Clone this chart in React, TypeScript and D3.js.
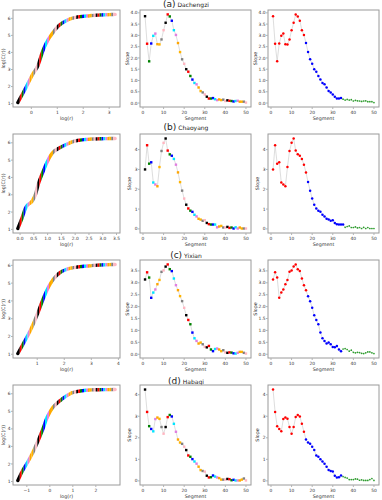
import React from 'react';
import * as d3 from 'd3';

// ---------- data ----------
const palette = ['#000000', '#ff0000', '#008000', '#0000ff', '#00e5ff', '#e07ee0', '#ffa500', '#ffb400', '#808080', '#ffb6c1'];
const clusterColors = ['#ff0000', '#0000ff', '#2ca02c'];

const tags = ['(a)', '(b)', '(c)', '(d)'];
const regions = ['Dachengzi', 'Chaoyang', 'Yixian', 'Habaqi'];

const slopeA = [3.85, 2.63, 1.85, 2.64, 2.98, 3.08, 2.61, 2.6, 2.82, 3.23, 3.56, 3.93, 3.84, 3.65, 3.23, 3.02, 2.66, 2.26, 1.94, 1.74, 1.5, 1.39, 1.2, 1.04, 0.89, 0.83, 0.69, 0.53, 0.47, 0.38, 0.28, 0.2, 0.2, 0.22, 0.17, 0.13, 0.16, 0.13, 0.15, 0.09, 0.12, 0.1, 0.09, 0.07, 0.09, 0.1, 0.06, 0.06, 0.06, 0.02];
const slopeB = [3.0, 4.22, 3.29, 3.36, 2.34, 2.24, 2.15, 3.12, 3.93, 4.34, 4.56, 3.95, 3.76, 3.69, 3.53, 3.24, 2.85, 2.36, 1.93, 1.53, 1.22, 1.03, 0.92, 0.86, 0.71, 0.63, 0.51, 0.47, 0.41, 0.44, 0.3, 0.24, 0.22, 0.22, 0.22, 0.08, 0.12, 0.15, 0.07, 0.07, 0.1, 0.05, 0.07, 0.02, 0.08, 0.02, 0.07, 0.02, 0.02, 0.02];
const slopeC = [3.14, 3.44, 3.22, 2.37, 2.59, 2.72, 2.94, 3.12, 3.46, 3.52, 3.68, 3.77, 3.57, 3.49, 3.18, 2.9, 2.69, 2.44, 2.23, 1.95, 1.64, 1.44, 1.26, 0.91, 0.67, 0.56, 0.45, 0.49, 0.42, 0.31, 0.29, 0.35, 0.2, 0.13, 0.22, 0.24, 0.2, 0.13, 0.17, 0.08, 0.06, 0.08, 0.07, 0.04, 0.03, 0.06, 0.1, 0.1, 0.06, 0.03];
const slopeD = [4.24, 3.2, 2.54, 2.41, 2.3, 2.87, 2.94, 2.88, 2.5, 2.19, 2.5, 2.96, 3.06, 2.99, 2.65, 2.28, 1.92, 1.78, 1.72, 1.59, 1.43, 1.18, 1.12, 1.01, 0.9, 0.8, 0.66, 0.5, 0.46, 0.43, 0.24, 0.16, 0.17, 0.25, 0.2, 0.16, 0.13, 0.06, 0.06, 0.06, 0.09, 0.08, 0.03, 0.05, 0.02, 0.02, 0.02, 0.06, 0.11, 0.02];

const clusterEndsA = [16, 34];
const clusterEndsB = [17, 35];
const clusterEndsC = [17, 34];
const clusterEndsD = [16, 34];

const logRA = [-0.52, -0.25, 0.06, 0.25, 0.44, 0.63, 0.82, 1.01, 1.33, 1.71, 2.09, 2.59, 3.23];
const logCA = [1.06, 1.82, 2.74, 3.22, 4.08, 4.7, 5.14, 5.5, 5.85, 6.06, 6.13, 6.19, 6.23];
const logRB = [-0.08, 0.07, 0.21, 0.45, 0.56, 0.66, 0.8, 0.98, 1.15, 1.39, 1.62, 1.98, 2.45, 3.04, 3.45];
const logCB = [1.05, 1.65, 2.27, 2.66, 3.02, 3.61, 4.2, 4.88, 5.37, 5.67, 5.86, 6.1, 6.2, 6.24, 6.25];
const logRC = [0.285, 0.47, 0.66, 0.84, 1.02, 1.21, 1.4, 1.59, 1.83, 2.08, 2.45, 2.83, 3.32, 3.88];
const logCC = [1.04, 1.55, 2.08, 2.65, 3.31, 4.07, 4.73, 5.2, 5.58, 5.77, 5.9, 5.96, 6.02, 6.05];
const logRD = [-1.39, -1.18, -0.96, -0.75, -0.53, -0.32, -0.1, 0.11, 0.4, 0.69, 0.98, 1.41, 1.98, 2.84];
const logCD = [1.06, 1.63, 2.11, 2.63, 3.26, 3.93, 4.7, 5.18, 5.56, 5.85, 6.06, 6.17, 6.23, 6.24];

const logRTicksA = [0, 1, 2, 3];
const logRTicksB = [0, 0.5, 1, 1.5, 2, 2.5, 3, 3.5];
const logRTicksC = [1, 2, 3, 4];
const logRTicksD = [-1, 0, 1, 2];
const logCTicks = [1, 2, 3, 4, 5, 6];
const slopeTicksA = [0, 0.5, 1, 1.5, 2, 2.5, 3, 3.5, 4];
const slopeTicksB = [0, 1, 2, 3, 4];
const slopeTicksC = [0, 0.5, 1, 1.5, 2, 2.5, 3, 3.5];
const slopeTicksD = [0, 1, 2, 3, 4];
const segmentTicks = [0, 10, 20, 30, 40, 50];

const rowsData = [
  { slope: slopeA, ends: clusterEndsA, lr: logRA, lc: logCA, xt: logRTicksA, xf: 'd', st: slopeTicksA, sf: '.1f' },
  { slope: slopeB, ends: clusterEndsB, lr: logRB, lc: logCB, xt: logRTicksB, xf: '.1f', st: slopeTicksB, sf: 'd' },
  { slope: slopeC, ends: clusterEndsC, lr: logRC, lc: logCC, xt: logRTicksC, xf: 'd', st: slopeTicksC, sf: '.1f' },
  { slope: slopeD, ends: clusterEndsD, lr: logRD, lc: logCD, xt: logRTicksD, xf: 'd', st: slopeTicksD, sf: 'd' },
];

// ---------- layout ----------
const W = 382, H = 500;
const colX = [[13, 120], [140, 251], [268, 379]];
const rowY = [[10, 107], [134, 233], [260, 358], [385, 485]];
const titleY = [7, 130, 258, 384];
const FONT = 'DejaVu Sans, sans-serif';
const TICK_FS = 4.4;
const LABEL_FS = 4.8;

function padded(ext: [number, number]): [number, number] {
  const m = (ext[1] - ext[0]) * 0.05;
  return [ext[0] - m, ext[1] + m];
}

function Frame(props: any) {
  const { x0, x1, y0, y1, xs, ys, xticks, yticks, xfmt, yfmt, xlabel, ylabel, ylabelOffset, children } = props;
  return (
    <g>
      <rect x={x0} y={y0} width={x1 - x0} height={y1 - y0} fill="#fff" />
      {children}
      <rect x={x0} y={y0} width={x1 - x0} height={y1 - y0} fill="none" stroke="#9a9a9a" strokeWidth={1} />
      {xticks.map((t: number) => (
        <g key={'x' + t}>
          <line x1={xs(t)} x2={xs(t)} y1={y1 + 0.5} y2={y1 + 2} stroke="#666" strokeWidth={0.5} />
          <text x={xs(t)} y={y1 + 6.8} fontSize={TICK_FS} textAnchor="middle" fill="#333">{xfmt(t)}</text>
        </g>
      ))}
      {yticks.map((t: number) => (
        <g key={'y' + t}>
          <line x1={x0 - 2} x2={x0 - 0.5} y1={ys(t)} y2={ys(t)} stroke="#666" strokeWidth={0.5} />
          <text x={x0 - 2.4} y={ys(t) + 1.6} fontSize={TICK_FS} textAnchor="end" fill="#333">{yfmt(t)}</text>
        </g>
      ))}
      <text x={(x0 + x1) / 2} y={y1 + 12.8} fontSize={LABEL_FS} textAnchor="middle" fill="#333">{xlabel}</text>
      <text transform={`translate(${x0 - ylabelOffset},${(y0 + y1) / 2}) rotate(-90)`} fontSize={LABEL_FS} textAnchor="middle" fill="#333">{ylabel}</text>
    </g>
  );
}

function CurvePanel({ row, d }: any) {
  const [x0, x1] = colX[0];
  const [y0, y1] = rowY[row];
  const xExt = d3.extent(d.lr as number[]) as [number, number];
  const yExt = d3.extent(d.lc as number[]) as [number, number];
  const xs = d3.scaleLinear().domain(padded(xExt)).range([x0, x1]);
  const ys = d3.scaleLinear().domain(padded(yExt)).range([y1, y0]);
  const pts = d.lr.map((v: number, i: number) => [v, d.lc[i]] as [number, number]);
  const line = d3.line<[number, number]>().x(p => xs(p[0])).y(p => ys(p[1])).curve(d3.curveMonotoneX);
  const path = line(pts) || '';
  const segX = d3.scaleLinear().domain([0, d.slope.length]).range(xExt);
  const segs = d3.range(d.slope.length);
  return (
    <Frame x0={x0} x1={x1} y0={y0} y1={y1} xs={xs} ys={ys} xticks={d.xt} yticks={logCTicks}
      xfmt={d3.format(d.xf)} yfmt={d3.format('d')} xlabel="log(r)" ylabel="log(C(r))" ylabelOffset={7.6}>
      <defs>
        {segs.map(k => (
          <clipPath id={`seg-${row}-${k}`} key={k}>
            <rect x={xs(segX(k)) - (k === 0 ? 4 : 0)} y={y0} width={xs(segX(k + 1)) - xs(segX(k)) + (k === 0 || k === segs.length - 1 ? 4 : 0)} height={y1 - y0} />
          </clipPath>
        ))}
      </defs>
      {segs.map(k => (
        <path key={k} d={path} fill="none" stroke={palette[k % palette.length]} strokeWidth={3.4}
          strokeLinecap="round" clipPath={`url(#seg-${row}-${k})`} />
      ))}
    </Frame>
  );
}

function SlopePanel({ row, col, d }: any) {
  const [x0, x1] = colX[col];
  const [y0, y1] = rowY[row];
  const n = d.slope.length;
  const xs = d3.scaleLinear().domain(padded([1, n])).range([x0, x1]);
  const ys = d3.scaleLinear().domain(padded(d3.extent(d.slope as number[]) as [number, number])).range([y1, y0]);
  const line = d3.line<number>().x((_, i) => xs(i + 1)).y(v => ys(v));
  const clusterOf = (i: number) => (i + 1 <= d.ends[0] ? 0 : i + 1 <= d.ends[1] ? 1 : 2);
  return (
    <Frame x0={x0} x1={x1} y0={y0} y1={y1} xs={xs} ys={ys} xticks={segmentTicks} yticks={d.st}
      xfmt={d3.format('d')} yfmt={d3.format(d.sf)} xlabel="Segment" ylabel="Slope"
      ylabelOffset={d.sf === 'd' ? 8.6 : 11.2}>
      <path d={line(d.slope) || ''} fill="none" stroke="#d4d4d4" strokeWidth={0.8} />
      {d.slope.map((v: number, i: number) => {
        if (col === 1) {
          return <rect key={i} x={xs(i + 1) - 1.2} y={ys(v) - 1.2} width={2.4} height={2.4} fill={palette[i % palette.length]} />;
        }
        const c = clusterOf(i);
        const r = c === 2 ? 0.85 : 1.25;
        return <circle key={i} cx={xs(i + 1)} cy={ys(v)} r={r} fill={clusterColors[c]} />;
      })}
    </Frame>
  );
}

export default function App() {
  return (
    <svg width={W} height={H} viewBox={`0 0 ${W} ${H}`} style={{ display: 'block', position: 'absolute', left: 0, top: 0, background: '#fff' }}
      fontFamily={FONT}>
      <rect width={W} height={H} fill="#fff" />
      {rowsData.map((d, r) => (
        <g key={r}>
          <text x={186} y={titleY[r]} textAnchor="middle" fill="#222">
            <tspan fontSize={9}>{tags[r]}</tspan>
            <tspan fontSize={6}>{' ' + regions[r]}</tspan>
          </text>
          <CurvePanel row={r} d={d} />
          <SlopePanel row={r} col={1} d={d} />
          <SlopePanel row={r} col={2} d={d} />
        </g>
      ))}
    </svg>
  );
}
